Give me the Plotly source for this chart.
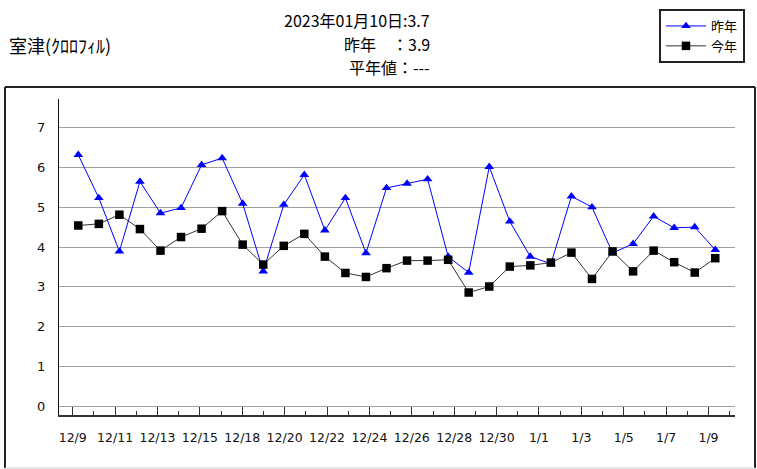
import plotly.graph_objects as go

# ---------------- data ----------------
dates = ["12/9", "12/10", "12/11", "12/12", "12/13", "12/14", "12/15", "12/16",
         "12/18", "12/19", "12/20", "12/21", "12/22", "12/23", "12/24", "12/25",
         "12/26", "12/27", "12/28", "12/29", "12/30", "12/31", "1/1", "1/2",
         "1/3", "1/4", "1/5", "1/6", "1/7", "1/8", "1/9", "1/10"]
last_year = [6.31, 5.23, 3.89, 5.64, 4.85, 4.98, 6.06, 6.23, 5.09, 3.39, 5.06,
             5.81, 4.42, 5.23, 3.85, 5.48, 5.59, 5.70, 3.76, 3.36, 6.01, 4.64,
             3.76, 3.58, 5.27, 5.00, 3.85, 4.08, 4.77, 4.48, 4.50, 3.93]
this_year = [4.54, 4.58, 4.81, 4.45, 3.91, 4.25, 4.46, 4.90, 4.06, 3.56, 4.03,
             4.33, 3.76, 3.35, 3.25, 3.47, 3.66, 3.66, 3.68, 2.86, 3.01, 3.51,
             3.54, 3.61, 3.86, 3.20, 3.89, 3.39, 3.91, 3.62, 3.36, 3.72]
y_ticks = [0, 1, 2, 3, 4, 5, 6, 7]
series_names = ["昨年", "今年"]
title_station = "室津(ｸﾛﾛﾌｨﾙ)"
title_lines = ["2023年01月10日:3.7", "昨年　：3.9", "平年値：---"]

# ---------------- layout geometry (pixels) ----------------
W, H = 757, 469
L, R, T, B = 59, 735, 99, 415
PW, PH = R - L, B - T


def px(x):
    return (x - L) / PW


def py(y):
    return (B - y) / PH


CJK = "Noto Sans CJK JP"
TICKF = "DejaVu Sans"

fig = go.Figure()
fig.add_trace(go.Scatter(
    x=dates, y=last_year, name=series_names[0], mode="lines+markers",
    line=dict(color="#0000FF", width=1),
    marker=dict(symbol="triangle-up", size=8.5, color="#0000FF"),
))
fig.add_trace(go.Scatter(
    x=dates, y=this_year, name=series_names[1], mode="lines+markers",
    line=dict(color="#333333", width=1),
    marker=dict(symbol="square", size=8.5, color="#000000"),
))

n = len(dates)
fig.update_layout(
    width=W, height=H,
    margin=dict(l=L, r=W - R, t=T, b=H - B, pad=0, autoexpand=False),
    paper_bgcolor="white", plot_bgcolor="white",
    font=dict(family=CJK, color="black"),
    hovermode=False,
    xaxis=dict(type="category", range=[-0.939, 31.96], visible=False,
               showgrid=False, zeroline=False),
    xaxis2=dict(type="linear", overlaying="x", anchor="y", side="bottom",
                range=[-0.647, 31.25],
                tickmode="array",
                tickvals=list(range(0, n, 2)),
                ticktext=dates[0::2],
                ticks="inside", ticklen=8, tickwidth=1, tickcolor="#333333",
                minor=dict(tickmode="array", tickvals=list(range(1, n, 2)),
                           ticks="inside", ticklen=4, tickwidth=1,
                           tickcolor="#333333", showgrid=False),
                showline=True, linecolor="#333333", linewidth=1.5,
                showgrid=False, zeroline=False,
                tickfont=dict(family=TICKF, size=12.5, color="#111111"),
                ticklabelstandoff=10),
    yaxis=dict(range=[-0.21, 7.71], tickmode="array", tickvals=y_ticks,
               showgrid=True, gridcolor="#a0a0a0", gridwidth=1.2,
               zeroline=False, showline=True, linecolor="#111111",
               linewidth=1, ticks="",
               tickfont=dict(family=TICKF, size=13, color="#111111"),
               ticklabelstandoff=10),
    legend=dict(x=px(659), y=py(9), xanchor="left", yanchor="top",
                bordercolor="#222222", borderwidth=2, bgcolor="white",
                font=dict(family=CJK, size=13, color="black"),
                tracegroupgap=0, itemwidth=40,
                entrywidth=74, entrywidthmode="pixels"),
)

# dummy invisible trace to bind the tick axis
fig.add_trace(go.Scatter(x=[0, n - 1], y=[None, None], xaxis="x2",
                         showlegend=False, hoverinfo="skip", mode="lines"))

# frame around the plot
frame = dict(xref="paper", yref="paper", type="line", layer="above")
fig.add_shape(**frame, x0=px(5), x1=px(755), y0=py(87), y1=py(87),
              line=dict(color="#222222", width=2))
fig.add_shape(**frame, x0=px(5), x1=px(5), y0=py(87), y1=py(468),
              line=dict(color="#222222", width=2))
fig.add_shape(**frame, x0=px(755), x1=px(755), y0=py(87), y1=py(468),
              line=dict(color="#222222", width=2))
fig.add_shape(**frame, x0=px(5), x1=px(755), y0=py(468), y1=py(468),
              line=dict(color="#cccccc", width=1))

# titles
fig.add_annotation(text=title_station, xref="paper", yref="paper",
                   x=px(7), y=py(45), xanchor="left", yanchor="middle",
                   showarrow=False, font=dict(family=CJK, size=18, color="black"))
for txt, yy in zip(title_lines, [20, 44, 67]):
    fig.add_annotation(text=txt, xref="paper", yref="paper",
                       x=px(432), y=py(yy), xanchor="right", yanchor="middle",
                       showarrow=False,
                       font=dict(family=CJK, size=16, color="black"))

fig.write_html("out.html", config={"displayModeBar": False},
               post_script="document.body.style.margin='0';"
                           "document.body.style.overflow='hidden';")
